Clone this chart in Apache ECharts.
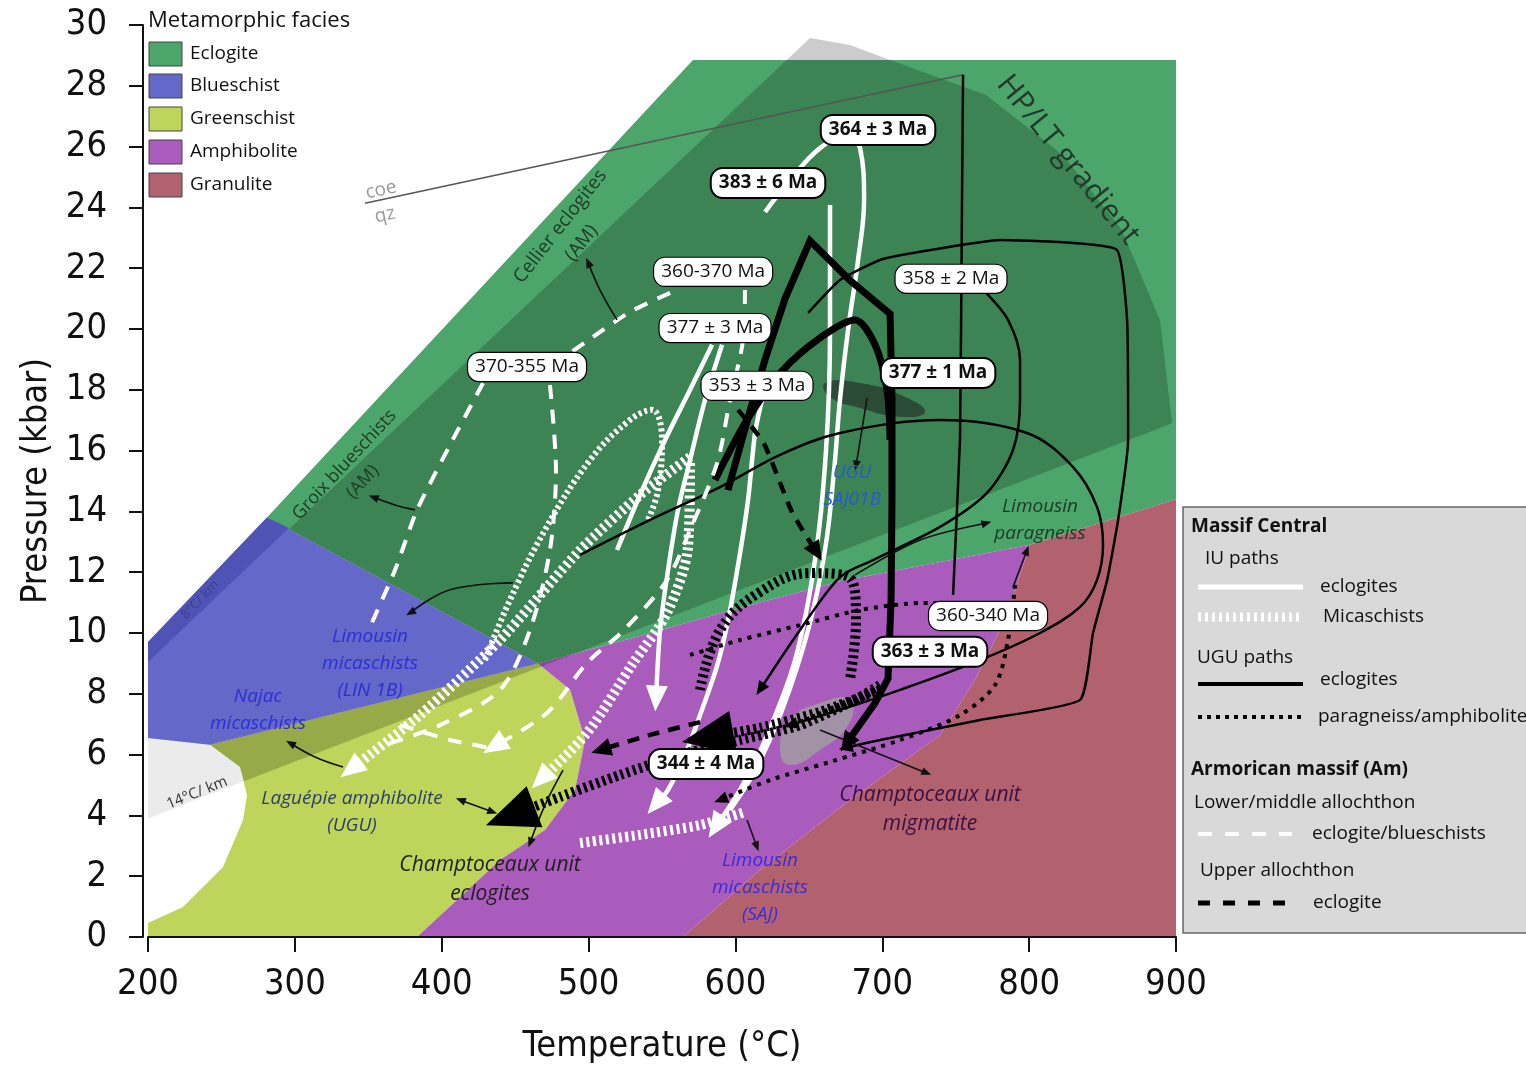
<!DOCTYPE html>
<html><head><meta charset="utf-8">
<script src="https://cdn.jsdelivr.net/npm/echarts@6/dist/echarts.min.js"></script>
<style>html,body{margin:0;padding:0;background:#fff}#c{width:1526px;height:1070px}</style>
</head><body><div id="c"></div>
<script>
// ---------- facies fields (T °C, P kbar) ----------
const faciesNames = ['Eclogite','Blueschist','Greenschist','Amphibolite','Granulite'];
const eclogiteField = [[281,13.8],[571.1,28.85],[900,28.85],[900,14.4],[800.6,12.9],[671.2,11.7],[589.5,10.65],[535,9.9],[465.6,9.0]];
const blueschistField = [[200,9.7],[281,13.8],[465.6,9.0],[346.4,7.57],[242.2,6.32],[200,6.55]];
const blueschistEdge = [[200,9.7],[281,13.8],[296,13.45],[200,9.05]];
const greenschistField = [[465.6,9.0],[487.4,8.13],[497.6,6.48],[490.8,4.84],[470.3,3.52],[439.7,2.53],[383.2,0],[200,0],[200,0.46],[223.8,0.99],[251.1,2.3],[264.7,3.85],[267.4,4.67],[262.6,5.59],[242.2,6.32],[346.4,7.57]];
const amphiboliteField = [[465.6,9.0],[535,9.9],[589.5,10.65],[671.2,11.7],[800.6,12.9],[783.6,10.43],[763.1,8.45],[739.3,6.64],[678,4.51],[616.7,2.2],[564.3,0],[383.2,0],[439.7,2.53],[470.3,3.52],[490.8,4.84],[497.6,6.48],[487.4,8.13]];
const granuliteField = [[800.6,12.9],[900,14.4],[900,0],[564.3,0],[616.7,2.2],[678,4.51],[739.3,6.64],[763.1,8.45],[783.6,10.43]];
const hpltWedge = [[200,9.05],[650.8,29.57],[678,29.34],[705.3,28.85],[770.6,27.7],[823,25.72],[863.2,23.26],[889.1,20.3],[897.3,16.9],[200,3.91]];
const whiteGap = [[200,6.55],[242.2,6.32],[262.6,5.59],[265.5,5.1],[200,3.91]];
const darkPatch = [[661,18.22],[684.8,18.22],[715.5,17.76],[729.1,17.27],[712.1,17.11],[684.8,17.4],[664.4,17.76]];
const greyPatch = [[630.4,6.15],[637.2,7.14],[657.6,7.7],[678,7.8],[676.7,6.97],[657.6,6.15],[637.2,5.66]];
const coeQz = [[347.8,24.14],[755,28.36]];

// ---------- P-T paths ----------
// IU eclogites (white solid)
const iuEclA = [[584.1,19.48],[569.1,18.0],[552.1,16.35],[535,14.54],[519.4,12.73]];
const iuEclB = [[590.9,19.48],[579.3,17.67],[569.1,15.69],[560.9,14.05],[554.1,12.07],[548.7,10.1],[545.9,7.8]];
const iuEclC = [[618.1,17.67],[613.3,16.55],[608.6,14.38],[602.5,12.44],[595,10.43],[587.5,8.92],[575.9,7.3],[565.7,5.99],[554.1,4.84],[545.3,4.34]];
const iuEclD = [[664.4,24.08],[664.4,19.97],[661.7,16.02],[654.2,12.4],[640.6,9.11],[620.2,6.48],[603.1,4.84],[586.1,3.59]];
const iuEclE = [[620.2,23.85],[637.2,24.9],[657.6,25.95],[674.6,26.32],[684.8,25.96],[687.6,24.25],[683.5,22.27],[676.7,19.97],[671.2,17.67],[667.2,15.36],[661,12.73],[649.5,10.1],[631.8,7.47],[613.4,5.49],[596.3,4.18]];
// IU micaschists (white ladder)
const iuMicA = [[569.1,15.79],[535,14.54],[494.2,12.73],[439.7,9.77],[385.2,7.3],[337.5,5.49]];
const iuMicB = [[429.5,9.11],[446.5,11.09],[470.3,13.39],[501,15.69],[528.2,17.01],[543.2,17.34],[550,16.35],[547.3,14.7],[540.5,13.72]];
const iuMicC = [[569.1,15.59],[567.7,12.83],[553.4,10.66],[530.3,9.01],[498.9,6.71],[466.9,5.16]];
const iuMicD = [[494.2,3.09],[535,3.36],[575.9,3.68],[606.5,4.11]];
// UGU eclogites (black solid)
const uguEclOuter = [[594.9,14.7],[609.9,17.3],[620.2,19.0],[633.8,21.0],[650.8,22.9],[678,21.6],[705.3,20.5],[706.6,17.7],[706.6,14.4],[706,11.1],[703.9,8.5],[695.1,7.7],[675.3,6.35]];
const uguEclInner = [[586.1,15.03],[592.9,15.69],[607.9,17.01],[630.4,18.55],[657.6,19.71],[681.4,20.3],[695.1,19.48],[703.2,18.0],[705.3,16.35]];
const uguEcl358 = [[649.5,20.53],[671.2,21.61],[698.5,22.27],[720.9,22.5],[780.2,22.93],[821,22.86],[859.8,22.6],[866.7,20.3],[867.4,16.35],[860.6,13.72],[853.1,11.74],[843.5,10.0],[834.7,7.8],[766.6,7.14],[698.5,6.48],[674.6,6.22]];
const uguEcl358b = [[770,21.22],[785.6,20.3],[793.8,18.98],[793.8,17.67],[789,16.02],[771.3,14.61],[739.3,13.49],[693.7,12.4],[671.2,11.84],[644,10.1],[616.7,8.13]];
const uguEclLoop = [[494.2,12.57],[541.9,13.72],[589.5,14.8],[630.4,15.86],[671.2,16.58],[739.3,17.01],[798.6,16.58],[829.9,15.46],[846.2,14.15],[850.3,12.9],[846.2,11.74],[834.7,10.86],[807.4,10.0],[766.6,9.11],[712.1,8.13],[671.2,7.47],[637.2,6.97]];
const uguEclVert = [[755,28.36],[754.3,24.24],[752.9,16.35],[748.2,11.25]];
// UGU paragneiss / amphibolite (black ladder and dotted)
const uguParA = [[698.5,8.29],[681.4,7.8],[644,6.97],[603.1,6.48],[562.3,5.99],[521.4,5.33],[480.6,4.61],[445,3.95]];
const uguParB = [[575.9,8.13],[589.5,10.1],[616.7,11.35],[650.8,11.97],[678,11.81],[682.1,10.43],[678,8.46]];
const uguParC = [[698.5,8.13],[657.6,7.4],[616.7,6.88],[579.3,6.55]];
const uguParD = [[790.4,11.58],[785.6,9.77],[776.8,8.29],[752.9,7.3],[712.1,6.48],[664.4,5.76],[623.6,5.16],[589.5,4.51]];
const uguParE = [[569.1,9.28],[603.1,9.77],[644,10.26],[684.8,10.76],[725.7,10.99],[749.5,10.99]];
// Armorican lower/middle allochthon (white dashed)
const amLowA = [[428.1,18.22],[405.7,16.19],[383.2,14.05],[368.2,12.07],[351.2,10.2]];
const amLowB = [[473.7,18.16],[477.8,15.36],[473.7,12.73],[460.1,10.1],[439.7,8.13],[398.8,6.97],[361.4,6.32]];
const amLowC = [[555.5,21.19],[528.2,20.56],[503,19.74],[480.6,18.98]];
const amLowD = [[606.5,21.28],[605.2,19.64],[596.3,17.67],[587.5,15.59],[569.1,13.39],[553.4,11.74],[524.1,10.1],[498.9,9.01],[471.7,7.37],[434.9,6.25]];
const amLowE = [[371.6,6.97],[405.7,6.48],[432.9,6.22]];
// Armorican upper allochthon (black dashed)
const amUpA = [[601.8,17.34],[619.5,16.22],[638.5,13.98],[655.6,12.63]];
const amUpB = [[575.9,7.07],[541.9,6.65],[507.8,6.15]];
// annotation pointers
const ptrCellier = [[519.4,20.3],[507.8,21.28],[499.6,22.2]];
const ptrGroix = [[381.8,14.05],[368.2,14.21],[353.2,14.47]];
const ptrLin1B = [[448.5,11.65],[405.7,11.42],[378.4,10.66]];
const ptrNajac = [[332.8,5.59],[313.7,5.92],[296.7,6.38]];
const ptrLaguepie = [[434.9,4.11],[412.5,4.51]];
const ptrChampEcl = [[482.6,5.49],[470.3,4.34],[460.1,3.09]];
const ptrSaj = [[607.9,3.85],[614.7,2.96]];
const ptrMigm = [[657.6,6.81],[730.5,5.39]];
const ptrParagA = [[681.4,11.91],[725.7,13.06],[771.3,13.62]];
const ptrParagB = [[789,11.51],[798.6,12.73]];
const ptrSaj01 = [[689.6,17.73],[682.1,15.49]];

// ---------- date labels ----------
const dateLabels = ['364 ± 3 Ma','383 ± 6 Ma','360-370 Ma','377 ± 3 Ma','370-355 Ma','353 ± 3 Ma','358 ± 2 Ma','377 ± 1 Ma','360-340 Ma','363 ± 3 Ma','344 ± 4 Ma'];
const dateLabelAt = [[697.1,26.55],[622.2,24.8],[584.8,21.88],[586.1,20.03],[458.1,18.75],[614.7,18.13],[746.8,21.65],[738,18.55],[772,10.56],[732.5,9.38],[580,5.69]];
const dateLabelBold = [true,true,false,false,false,false,false,true,false,true,true];

// ---------- annotations ----------
const annoText = ['HP/LT gradient','Cellier eclogites\n(AM)','Groix blueschists\n(AM)','coe','qz','8°C/ km','14°C/ km','Limousin\nmicaschists\n(LIN 1B)','Najac\nmicaschists','Laguépie amphibolite\n(UGU)','Champtoceaux unit\neclogites','Limousin\nmicaschists\n(SAJ)','Champtoceaux unit\nmigmatite','UGU\nSAJ01B','Limousin\nparagneiss'];
const annoAt = [[826.5,25.56],[488,23.1],[340,15.25],[358.7,24.57],[361.4,23.75],[235.4,11.09],[233.4,4.74],[351.2,9.01],[274.9,7.47],[338.9,4.11],[432.9,1.88],[616.7,1.61],[732.5,4.18],[679.4,14.84],[807.4,13.72]];

// ---------- styles ----------
const cond = "'Liberation Sans Narrow','DejaVu Sans Condensed',sans-serif";
const sans = "'Open Sans','Noto Sans',sans-serif";
const faciesColors = ['#4ca56a','#6468c8','#bed45b','#aa5cbd','#b2616f'];
const annoStyle = [
  {rotate:-51,size:30,color:'#23392b',italic:false},
  {rotate:52,size:19,color:'#1d3a25',italic:false},
  {rotate:47,size:18,color:'#1d3a25',italic:false},
  {rotate:12,size:19,color:'#999',italic:false},
  {rotate:12,size:19,color:'#999',italic:false},
  {rotate:46,size:13,color:'#3a3d8a',italic:false},
  {rotate:22,size:15,color:'#333',italic:false},
  {rotate:0,size:19,color:'#2b2fd6',italic:true},
  {rotate:0,size:19,color:'#2b2fd6',italic:true},
  {rotate:0,size:19,color:'#2c3e6a',italic:true},
  {rotate:0,size:21,color:'#1e1e1e',italic:true},
  {rotate:0,size:19,color:'#3a2ae0',italic:true},
  {rotate:0,size:21,color:'#3a1040',italic:true},
  {rotate:0,size:19,color:'#2a5ac8',italic:true},
  {rotate:0,size:19,color:'#1d3a25',italic:true}
];
const S = {
  wSolid:{color:'#fff',width:4.5},
  wLadder:{color:'#fff',width:10,type:[3,3.5],cap:'butt'},
  wLadderThin:{color:'#fff',width:6,type:[3,3],cap:'butt'},
  kThick:{color:'#000',width:7,join:'miter'},
  kThin:{color:'#000',width:2.5},
  kLadder:{color:'#000',width:10,type:[3,3.5],cap:'butt'},
  kDot:{color:'#000',width:4,type:[4,6],cap:'butt'},
  wDash:{color:'#fff',width:4,type:[14,11],cap:'butt'},
  kDash:{color:'#000',width:4.5,type:[12,9],cap:'butt'},
  ptr:{color:'#111',width:1.6}
};
const paths = [
  [iuEclA,'wSolid',0.3,null],[iuEclB,'wSolid',0.3,'wMed'],[iuEclC,'wSolid',0.3,'wMed'],[iuEclD,'wSolid',0.3,'wMed'],[iuEclE,'wSolid',0.4,null],
  [iuMicA,'wLadder',0.2,'wMed'],[iuMicB,'wLadderThin',0.4,null],[iuMicC,'wLadder',0.3,'wMed'],[iuMicD,'wLadder',0.2,null],
  [uguEclOuter,'kThick',0,'kMed'],[uguEclInner,'kThick',0.3,null],[uguEcl358,'kThin',0.15,'kSmall'],[uguEcl358b,'kThin',0.3,'kSmall'],[uguEclLoop,'kThin',0.35,'kSmall'],[uguEclVert,'kThin',0.1,null],
  [uguParA,'kLadder',0.2,'kBig'],[uguParB,'kLadder',0.4,null],[uguParC,'kLadder',0.2,'kBig'],[uguParD,'kDot',0.3,'kSmall'],[uguParE,'kDot',0.2,null],
  [amLowA,'wDash',0.2,null],[amLowB,'wDash',0.3,null],[amLowC,'wDash',0.2,null],[amLowD,'wDash',0.3,'wMed'],[amLowE,'wDash',0.2,null],
  [amUpA,'kDash',0.2,'kMed'],[amUpB,'kDash',0.1,'kMed'],
  [ptrCellier,'ptr',0.4,'ptr'],[ptrGroix,'ptr',0.4,'ptr'],[ptrLin1B,'ptr',0.4,'ptr'],[ptrNajac,'ptr',0.4,'ptr'],[ptrLaguepie,'ptr',0,'ptr'],
  [ptrChampEcl,'ptr',0.4,'ptr'],[ptrSaj,'ptr',0,'ptr'],[ptrMigm,'ptr',0,'ptr'],[ptrParagA,'ptr',0.3,'ptr'],[ptrParagB,'ptr',0,'ptr'],[ptrSaj01,'ptr',0,'ptr']
];
const arrowKinds = {wMed:[26,11,'#fff'],kMed:[20,9,'#000'],kSmall:[14,6,'#000'],kBig:[52,22,'#000'],ptr:[10,4,'#111']};

function polygonSeries(pts, fill, z, smooth){
  return {type:'custom',coordinateSystem:'cartesian2d',data:pts,z:z,silent:true,clip:false,
    renderItem:function(params,api){
      if(params.dataIndex!==0) return null;
      return {type:'polygon',shape:{points:pts.map(function(p){return api.coord(p);}),smooth:smooth||0},style:{fill:fill}};
    }};
}
const series = [];
series.push(polygonSeries(eclogiteField,faciesColors[0],1));
series.push(polygonSeries(greenschistField,faciesColors[2],1));
series.push(polygonSeries(amphiboliteField,faciesColors[3],1));
series.push(polygonSeries(granuliteField,faciesColors[4],1));
series.push(polygonSeries(hpltWedge,'rgba(0,0,0,0.2)',2));
series.push(polygonSeries(whiteGap,'rgba(255,255,255,0.6)',2.5));
series.push(polygonSeries(blueschistField,faciesColors[1],3));
series.push(polygonSeries(blueschistEdge,'#5053b6',3));
series.push(polygonSeries(darkPatch,'rgba(30,30,30,0.55)',4,0.5));
series.push(polygonSeries(greyPatch,'rgba(160,160,160,0.8)',4,0.5));
series.push({type:'line',data:coeQz,showSymbol:false,symbol:'none',z:5,silent:true,lineStyle:{color:'#555',width:1.5}});

const arrowData = [];
paths.forEach(function(p){
  const pts=p[0];
  series.push({type:'line',data:pts,smooth:p[2],showSymbol:false,symbol:'none',z:5,silent:true,clip:false,lineStyle:S[p[1]]});
  if(p[3]){ const a=pts[pts.length-2], b=pts[pts.length-1]; arrowData.push([b[0],b[1],a[0],a[1],p[3]]); }
});
arrowData.push([ptrLaguepie[0][0],ptrLaguepie[0][1],ptrLaguepie[1][0],ptrLaguepie[1][1],'ptr']);

series.push({type:'custom',coordinateSystem:'cartesian2d',z:6,silent:true,clip:false,
  data:arrowData.map(function(d){return d.slice(0,4);}),
  renderItem:function(params,api){
    const k=arrowKinds[arrowData[params.dataIndex][4]];
    const a=api.coord([api.value(2),api.value(3)]), b=api.coord([api.value(0),api.value(1)]);
    const dx=b[0]-a[0], dy=b[1]-a[1], d=Math.hypot(dx,dy)||1, ux=dx/d, uy=dy/d;
    const L=k[0], W=k[1];
    const tip=[b[0]+ux*L*0.45,b[1]+uy*L*0.45], base=[tip[0]-ux*L,tip[1]-uy*L];
    return {type:'polygon',shape:{points:[tip,[base[0]-uy*W,base[1]+ux*W],[base[0]+uy*W,base[1]-ux*W]]},style:{fill:k[2]}};
  }});

series.push({type:'scatter',z:7,silent:true,symbolSize:0,itemStyle:{opacity:1},
  data:annoText.map(function(t,i){const s=annoStyle[i];return {value:annoAt[i],name:t,label:{show:true,position:'inside',formatter:t,rotate:s.rotate,fontSize:s.size,color:s.color,opacity:1,fontStyle:s.italic?'italic':'normal',fontFamily:sans,lineHeight:Math.round(s.size*1.4),align:'center'}};})});

series.push({type:'scatter',z:8,silent:true,symbolSize:0,itemStyle:{opacity:1},
  data:dateLabels.map(function(t,i){return {value:dateLabelAt[i],name:t,label:{show:true,position:'inside',formatter:t,fontSize:19,opacity:1,fontWeight:dateLabelBold[i]?'bold':'normal',color:'#111',fontFamily:sans,backgroundColor:'#fff',borderColor:'#000',borderWidth:dateLabelBold[i]?2:1.2,borderRadius:11,padding:[4,7],lineHeight:20}};})});

// ---------- legends (graphic) ----------
const g = [];
g.push({type:'text',x:148,y:21,z:20,style:{text:'Metamorphic facies',font:'22px '+sans,fill:'#111',verticalAlign:'middle'}});
const swY=[54,86,119,152,185];
faciesNames.forEach(function(n,i){
  g.push({type:'rect',z:20,shape:{x:149,y:swY[i]-12,width:33,height:24},style:{fill:faciesColors[i],stroke:'#444',lineWidth:1}});
  g.push({type:'text',z:20,x:190,y:swY[i],style:{text:n,font:'19px '+sans,fill:'#111',verticalAlign:'middle'}});
});
g.push({type:'rect',z:20,shape:{x:1183,y:507,width:360,height:426},style:{fill:'#d9d9d9',stroke:'#666',lineWidth:1.5}});
function lt(x,y,t,f){g.push({type:'text',z:21,x:x,y:y,style:{text:t,font:f||('19px '+sans),fill:'#111',verticalAlign:'middle'}});}
function ll(y,x2,st){g.push({type:'line',z:21,shape:{x1:1198,y1:y,x2:x2,y2:y},style:{stroke:st.color,lineWidth:st.width,lineDash:st.type||null,lineCap:'butt'}});}
lt(1191,527,'Massif Central','bold 19px '+sans);
lt(1205,559,'IU paths');
ll(587,1303,{color:'#fff',width:5}); lt(1320,587,'eclogites');
ll(617,1303,{color:'#fff',width:9,type:[3,4]}); lt(1323,617,'Micaschists');
lt(1197,658,'UGU paths');
ll(684,1303,{color:'#000',width:4}); lt(1320,680,'eclogites');
ll(717,1303,{color:'#000',width:4,type:[4,5]}); lt(1318,717,'paragneiss/amphibolite');
lt(1191,770,'Armorican massif (Am)','bold 19px '+sans);
lt(1194,803,'Lower/middle allochthon');
ll(834,1292,{color:'#fff',width:4,type:[14,13]}); lt(1312,834,'eclogite/blueschists');
lt(1200,871,'Upper allochthon');
ll(903,1292,{color:'#000',width:5,type:[12,13]}); lt(1313,903,'eclogite');

const chart = echarts.init(document.getElementById('c'));
chart.setOption({
  animation:false,
  backgroundColor:'#fff',
  grid:{left:148,top:25,width:1028,height:912,outerBoundsMode:'none',containLabel:false},
  xAxis:{type:'value',min:200,max:900,interval:100,z:10,
    axisLine:{show:true,onZero:false,lineStyle:{color:'#111',width:2}},
    axisTick:{show:true,length:15,lineStyle:{color:'#111',width:2}},
    axisLabel:{fontSize:36,fontFamily:cond,color:'#111',margin:30},
    splitLine:{show:false},
    name:'Temperature (°C)',nameLocation:'middle',nameGap:92,nameTextStyle:{fontSize:36,fontFamily:cond,color:'#111'}},
  yAxis:{type:'value',min:0,max:30,interval:2,offset:5,z:10,
    axisLine:{show:true,onZero:false,lineStyle:{color:'#111',width:2}},
    axisTick:{show:true,length:14,lineStyle:{color:'#111',width:2}},
    axisLabel:{fontSize:36,fontFamily:cond,color:'#111',margin:36},
    splitLine:{show:false},
    name:'Pressure (kbar)',nameLocation:'middle',nameGap:88,nameTextStyle:{fontSize:36,fontFamily:cond,color:'#111'}},
  series:series,
  graphic:g
});
</script></body></html>
